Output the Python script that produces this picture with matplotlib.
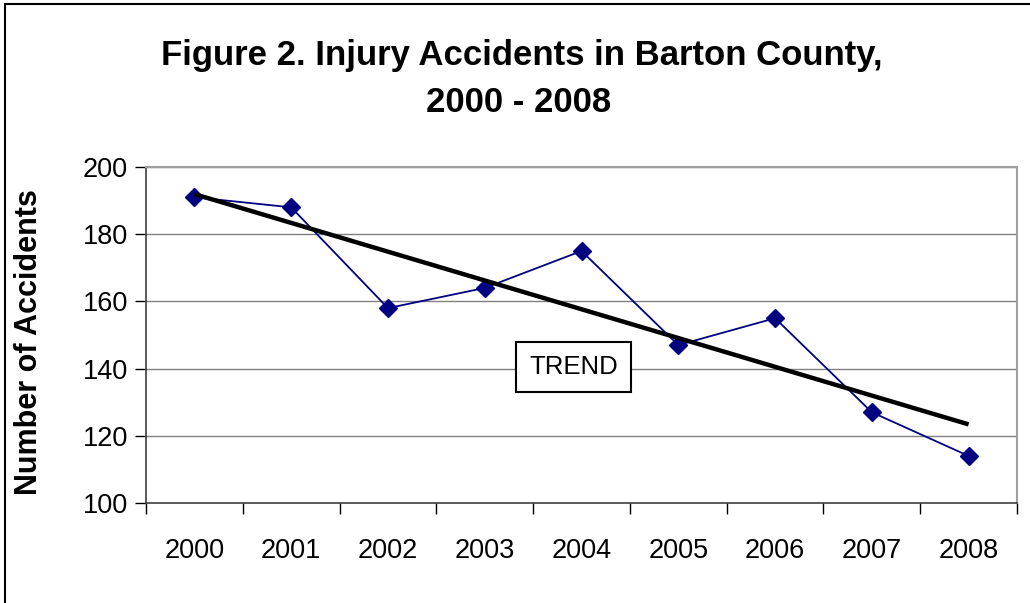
import numpy as np
import matplotlib.pyplot as plt
from matplotlib.patches import Rectangle

plt.rcParams['font.family'] = ['Liberation Sans', 'DejaVu Sans']

years = ["2000", "2001", "2002", "2003", "2004", "2005", "2006", "2007", "2008"]
accidents = [191, 188, 158, 164, 175, 147, 155, 127, 114]
y_ticks = [100, 120, 140, 160, 180, 200]

fig = plt.figure(figsize=(10.3, 6.03), dpi=100)
ax = fig.add_axes([146 / 1030, 1 - 503 / 603, (1017 - 146) / 1030, (503 - 167) / 603])

x = np.arange(len(years))

# linear trend from the data
slope, intercept = np.polyfit(x, accidents, 1)
trend = slope * x + intercept

ax.plot(x, accidents, color="#000080", lw=1.3, marker="D", markersize=9.5,
        markerfacecolor="#000080", markeredgecolor="#000080", zorder=3)
ax.plot([x[0], x[-1]], [trend[0], trend[-1]], color="black", lw=3.2,
        solid_capstyle="butt", zorder=4)

ax.set_xlim(-0.5, len(years) - 0.5)
ax.set_ylim(100, 200)
ax.set_yticks(y_ticks)
ax.set_yticklabels([str(v) for v in y_ticks], fontsize=19.5)
ax.set_xticks(x)
ax.set_xticklabels(years, fontsize=19.5)
ax.set_xticks(np.arange(-0.5, len(years)), minor=True)
ax.tick_params(axis="x", which="major", length=0, pad=25)
ax.tick_params(axis="x", which="minor", length=8, width=1, direction="out")
ax.tick_params(axis="y", length=8, width=1, direction="out", pad=5)

ax.yaxis.grid(True, color="#808080", lw=1)
ax.set_axisbelow(True)
for side in ["top", "right"]:
    ax.spines[side].set_color("#a0a0a0")
    ax.spines[side].set_linewidth(1.5)
for side in ["left", "bottom"]:
    ax.spines[side].set_color("#404040")
    ax.spines[side].set_linewidth(1.2)

ax.set_ylabel("Number of Accidents", fontsize=22, fontweight="bold")
ax.yaxis.set_label_coords((44 - 146) / 871, 0.478)

ax.text(3.92, 140.5, "TREND", fontsize=18.5, ha="center", va="center", zorder=5,
        bbox=dict(boxstyle="square,pad=0.52", facecolor="white", edgecolor="black", lw=1.5))

fig.text(0.507, 0.908, "Figure 2. Injury Accidents in Barton County,", fontsize=25,
         fontweight="bold", ha="center", va="center")
fig.text(0.504, 0.83, "2000 - 2008", fontsize=25, fontweight="bold", ha="center", va="center")

# outer chart frame
fig.patches.append(Rectangle((5 / 1030, -0.1), 1.2, 1 - 4 / 603 + 0.1, transform=fig.transFigure,
                             fill=False, edgecolor="black", lw=1.5))

fig.savefig("out.png", dpi=100)
